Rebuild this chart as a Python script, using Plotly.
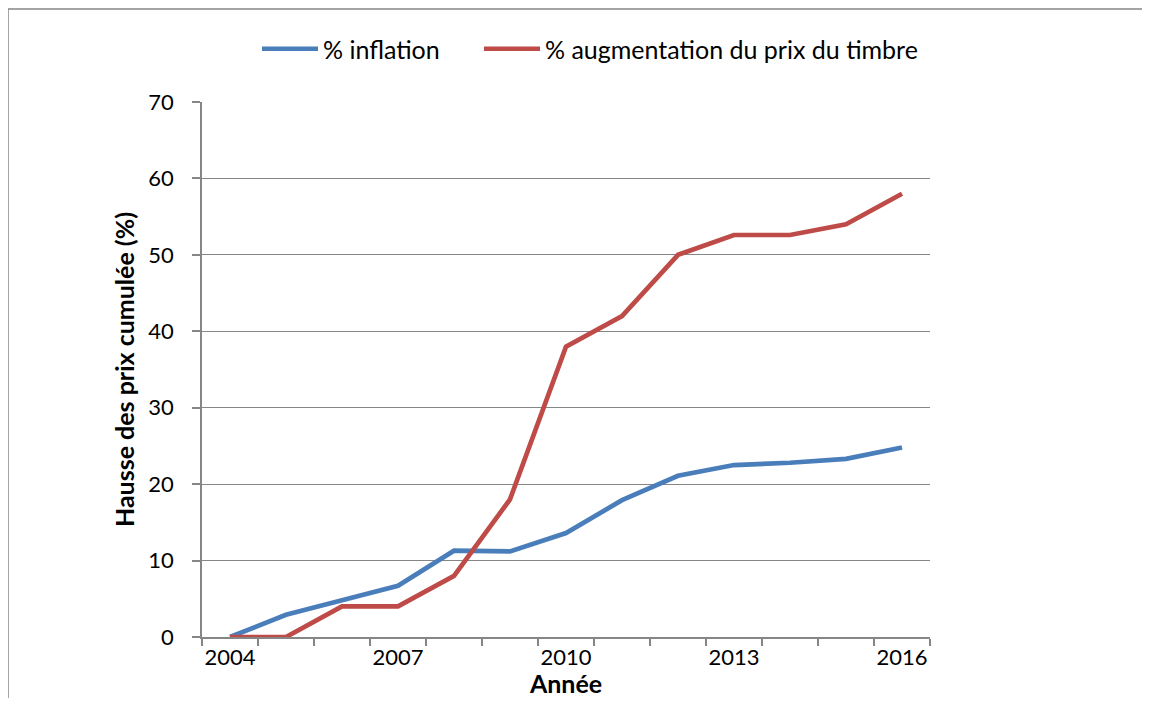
import plotly.graph_objects as go

years = [2004, 2005, 2006, 2007, 2008, 2009, 2010, 2011, 2012, 2013, 2014, 2015, 2016]
inflation = [0, 2.9, 4.8, 6.7, 11.3, 11.2, 13.6, 17.9, 21.1, 22.5, 22.8, 23.3, 24.8]
timbre = [0, 0, 4, 4, 8, 18, 38, 42, 50, 52.6, 52.6, 54, 58]
tick_years = [2004, 2007, 2010, 2013, 2016]
tick_labels = ["2004", "2007", "2010", "2013", "2016"]
series_names = ["% inflation", "% augmentation du prix du timbre"]

FONT = "Lato"
GRID = "#868686"
OFF = 8  # page body margin
W, H = 1150 - 2 * OFF, 706 - 2 * OFF
L, T = 202 - OFF, 102 - OFF
R = W - (930 - OFF)
B = H - (637 - OFF)
pw = W - L - R
ph = H - T - B

fig = go.Figure()
fig.add_trace(go.Scatter(x=years, y=inflation, mode="lines", name=series_names[0],
                         line=dict(color="#4A7EBB", width=4.7), cliponaxis=False, legend="legend"))
fig.add_trace(go.Scatter(x=years, y=timbre, mode="lines", name=series_names[1],
                         line=dict(color="#BE4B48", width=4.7), cliponaxis=False, legend="legend2"))

def px_x(p):
    return (p - OFF - L) / pw

def px_y(p):
    return 1 - (p - OFF - T) / ph

leg = dict(orientation="h", xanchor="left", y=px_y(49), yanchor="middle",
           font=dict(family=FONT, size=25, color="black"), itemwidth=56,
           bgcolor="rgba(0,0,0,0)")

fig.update_layout(
    width=W, height=H,
    margin=dict(l=L, r=R, t=T, b=B, autoexpand=False),
    paper_bgcolor="white", plot_bgcolor="white",
    font=dict(family=FONT, size=22, color="black"),
    showlegend=True,
    legend=dict(leg, x=px_x(257)),
    legend2=dict(leg, x=px_x(479)),
    xaxis=dict(range=[2003.5, 2016.5], tickmode="array", tickvals=tick_years, ticktext=tick_labels,
               ticks="", showgrid=False, zeroline=False,
               showline=True, linecolor=GRID, linewidth=1.5,
               tickfont=dict(family=FONT, size=22, color="black"),
               minor=dict(tickmode="array", tickvals=[y - 0.5 for y in years] + [years[-1] + 0.5],
                          ticks="outside", ticklen=7, tickcolor=GRID, tickwidth=1.5, showgrid=False),
               title=dict(text="<b>Année</b>", font=dict(family=FONT, size=25, color="black"), standoff=11),
               automargin=False),
    yaxis=dict(range=[0, 70], dtick=10, tick0=0, showgrid=True, gridcolor=GRID, gridwidth=1,
               zeroline=False, showline=True, linecolor=GRID, linewidth=1.5,
               ticks="outside", ticklen=8, tickcolor=GRID, tickwidth=1.5,
               ticklabelstandoff=14,
               tickfont=dict(family=FONT, size=22, color="black"),
               title=dict(text="<b>Hausse des prix cumulée (%)</b>", font=dict(family=FONT, size=25, color="black"), standoff=7),
               automargin=False),
)

fig.add_shape(type="line", xref="paper", yref="paper", x0=px_x(8), x1=px_x(1150), y0=px_y(9), y1=px_y(9),
              line=dict(color=GRID, width=1.5))
fig.add_shape(type="line", xref="paper", yref="paper", x0=px_x(8), x1=px_x(8), y0=px_y(9), y1=px_y(706),
              line=dict(color=GRID, width=1.5))

fig.write_html("out.html")
